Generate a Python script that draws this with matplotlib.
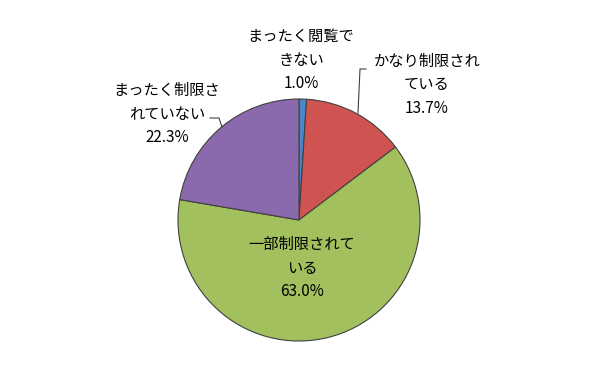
import matplotlib
matplotlib.use("Agg")
import matplotlib.pyplot as plt

plt.rcParams['font.family'] = ['Noto Sans CJK JP', 'DejaVu Sans']

# datos
categorias = ['まったく閲覧で\nきない', 'かなり制限され\nている', '一部制限されて\nいる', 'まったく制限さ\nれていない']
valores = [1.0, 13.7, 63.0, 22.3]
colores = ['#4A86C8', '#CF5451', '#A2C05E', '#8A69AC']

# posiciones de etiquetas en pixeles (centro de texto)
pos_etiquetas = [(301, 60), (427, 85), (302, 268), (167, 114)]

W, H = 590, 377
cx, cy, r = 299, 220, 121


def a_datos(px, py):
    return (px - cx) / r, (cy - py) / r


fig = plt.figure(figsize=(W / 100, H / 100), dpi=100)
ax = fig.add_axes([0, 0, 1, 1])

ax.pie(valores, colors=colores, startangle=90, counterclock=False, radius=1.0,
       wedgeprops=dict(edgecolor='#404040', linewidth=0.8))

ax.set_xlim(-cx / r, (W - cx) / r)
ax.set_ylim((cy - H) / r, cy / r)
ax.axis('off')

for cat, val, (px, py) in zip(categorias, valores, pos_etiquetas):
    x, y = a_datos(px, py)
    ax.text(x, y, f"{cat}\n{val:.1f}%", ha='center', va='center', fontsize=11,
            linespacing=1.5, color='black')

# lineas guia
guias = [
    [(366, 69), (360, 69), (358, 113)],
    [(210, 118), (219, 118), (222, 127)],
]
for g in guias:
    xs, ys = zip(*[a_datos(px, py) for px, py in g])
    ax.plot(xs, ys, color='#404040', linewidth=0.8)

fig.savefig('out.png', dpi=100)
